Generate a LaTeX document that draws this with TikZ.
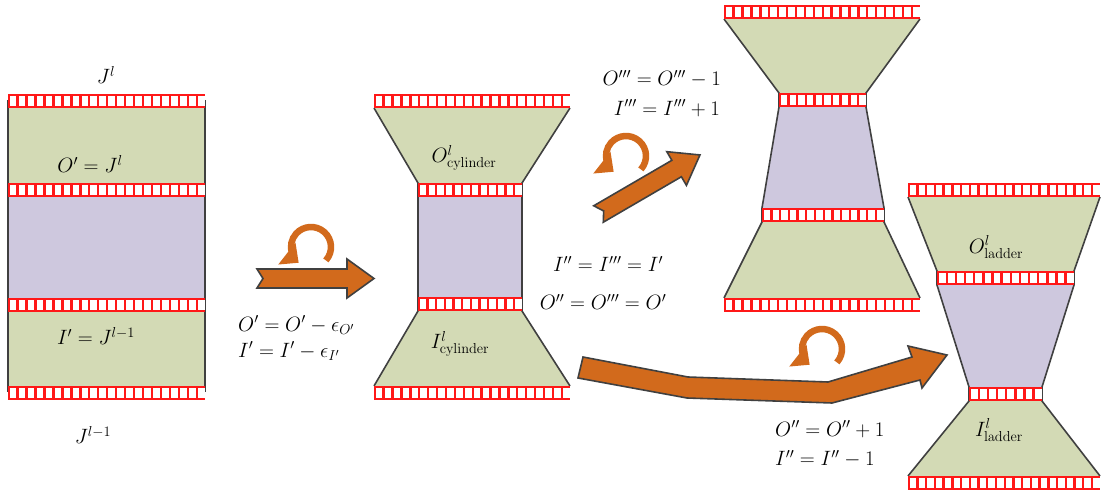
\documentclass[tikz,border=0pt]{standalone}
\usetikzlibrary{arrows.meta}
\definecolor{pgreen}{RGB}{211,218,181}
\definecolor{ppurple}{RGB}{206,200,222}
\definecolor{pedge}{RGB}{64,64,64}
\definecolor{porange}{RGB}{210,106,28}
\definecolor{pred}{RGB}{255,24,24}
\tikzset{
  greenfill/.style={fill=pgreen},
  purplefill/.style={fill=ppurple},
  sideline/.style={draw=pedge, line width=1.6pt, line join=miter},
  fatarrow/.style={fill=porange, draw=pedge, line width=1.6pt, line join=miter},
  rotsym/.style={draw=porange, line width=6.5pt, -{Triangle[width=27pt,length=15pt]}},
  lab/.style={font=\fontsize{21}{25}\selectfont, inner sep=0pt},
}
\newcommand{\ladderstrip}[4]{%
  \pgfmathtruncatemacro{\ncell}{round((#3-#1)/8.9)}%
  \pgfmathsetmacro{\pitch}{(#3-#1)/\ncell}%
  \fill[pred] (#1,#2) rectangle (#3,#4);%
  \foreach \k in {1,...,\ncell}{%
    \fill[white] ({#1+(\k-1)*\pitch+1.9},{#2+2.4}) rectangle ({#1+\k*\pitch-0.5},{#4-2.4});}%
}
\newcommand{\fatarrowshape}[3]{% start coordinate, angle, length
  \begin{scope}[shift={(#1)}, rotate=#2]
    \draw[fatarrow] (0,-9.5) -- ({#3-27},-9.5) -- ({#3-27},-19.5) -- (#3,0)
      -- ({#3-27},19.5) -- ({#3-27},9.5) -- (0,9.5) -- (6,0) -- cycle;
  \end{scope}}
\begin{document}
\begin{tikzpicture}[x=1pt, y=-1pt]
\useasboundingbox (0,0) rectangle (1101,494);

% ---------------- left block ----------------
\fill[greenfill] (8,107) rectangle (205,183);
\fill[purplefill] (8,196) rectangle (205,298);
\fill[greenfill] (8,311) rectangle (205,386);
\draw[sideline] (8,100) -- (8,392);
\draw[sideline] (205,100) -- (205,392);
\ladderstrip{8}{94}{205}{108}
\ladderstrip{8}{183}{205}{197}
\ladderstrip{8}{298}{205}{312}
\ladderstrip{8}{386}{205}{400}

% ---------------- cylinder ----------------
\fill[greenfill] (374,108) -- (570,108) -- (522,183) -- (418,183) -- cycle;
\fill[purplefill] (418,196) rectangle (522,298);
\fill[greenfill] (418,311) -- (522,311) -- (570,386) -- (374,386) -- cycle;
\draw[sideline] (374,108) -- (418,183) -- (418,311) -- (374,386);
\draw[sideline] (570,108) -- (522,183) -- (522,311) -- (570,386);
\ladderstrip{374}{94}{570}{108}
\ladderstrip{418}{183}{522}{197}
\ladderstrip{418}{297}{522}{311}
\ladderstrip{374}{386}{570}{400}

% ---------------- upper right ----------------
\fill[greenfill] (724,19) -- (920,19) -- (866,93) -- (779,93) -- cycle;
\fill[purplefill] (779,107) -- (866,107) -- (884,208) -- (762,208) -- cycle;
\fill[greenfill] (762,222) -- (884,222) -- (920,298) -- (724,298) -- cycle;
\draw[sideline] (724,19) -- (779,93) -- (779,107) -- (762,208) -- (762,222) -- (724,298);
\draw[sideline] (920,19) -- (866,93) -- (866,107) -- (884,208) -- (884,222) -- (920,298);
\ladderstrip{724}{5}{920}{19}
\ladderstrip{779}{93}{866}{107}
\ladderstrip{762}{208}{884}{222}
\ladderstrip{724}{298}{920}{312}

% ---------------- ladder ----------------
\fill[greenfill] (908,197) -- (1100,197) -- (1074,271) -- (937,271) -- cycle;
\fill[purplefill] (937,285) -- (1074,285) -- (1042,387) -- (969,387) -- cycle;
\fill[greenfill] (969,401) -- (1042,401) -- (1100,476) -- (908,476) -- cycle;
\draw[sideline] (908,197) -- (937,271) -- (937,285) -- (969,387) -- (969,401) -- (908,476);
\draw[sideline] (1100,197) -- (1074,271) -- (1074,285) -- (1042,387) -- (1042,401) -- (1100,476);
\ladderstrip{908}{183}{1100}{197}
\ladderstrip{937}{271}{1074}{285}
\ladderstrip{969}{387}{1042}{401}
\ladderstrip{908}{476}{1100}{490}

% ---------------- arrows ----------------
\coordinate (arrA) at (257,278.5);
\coordinate (arrB) at (598.5,214);
\fatarrowshape{arrA}{0}{117}
\fatarrowshape{arrB}{30.2}{117.4}
\draw[fatarrow] (583,357) -- (688,377) -- (828,382) -- (912,357) -- (908,346)
  -- (947,355) -- (922,388) -- (920,380) -- (832,403) -- (687,398) -- (578,378) -- cycle;

% rotation symbols
\coordinate (rotA) at (311,247);
\coordinate (rotB) at (626,156);
\coordinate (rotC) at (822,349);
\foreach \c in {rotA,rotB,rotC}{
  \draw[rotsym] ([shift={(42:20)}]\c) arc[start angle=42, end angle=-232, radius=20];
}

% ---------------- labels ----------------
\node[lab] (jl) at (106,75) {$J^{l}$};
\node[lab] (oj) at (90,164) {$O' = J^{l}$};
\node[lab] (ij) at (96,336) {$I' = J^{l-1}$};
\node[lab] (jl1) at (93,435) {$J^{l-1}$};
\node[lab] (ocyl) at (464,158) {$O^{l}_{\mathrm{cylinder}}$};
\node[lab] (icyl) at (460,344) {$I^{l}_{\mathrm{cylinder}}$};
\node[lab, anchor=west] (eqa) at (238,325) {$O' = O' - \epsilon_{O'}$};
\node[lab, anchor=west] (eqb) at (238,351) {$I' = I' - \epsilon_{I'}$};
\node[lab, anchor=east] (eqc) at (721,79) {$O''' = O''' - 1$};
\node[lab, anchor=east] (eqd) at (720,108) {$I''' = I''' + 1$};
\node[lab] (eqe) at (608,264) {$I'' = I''' = I'$};
\node[lab] (eqf) at (603,302) {$O'' = O''' = O'$};
\node[lab, anchor=west] (eqg) at (775,429) {$O'' = O'' + 1$};
\node[lab, anchor=west] (eqh) at (775,459) {$I'' = I'' - 1$};
\node[lab] (olad) at (996,247) {$O^{l}_{\mathrm{ladder}}$};
\node[lab] (ilad) at (999,430) {$I^{l}_{\mathrm{ladder}}$};
\end{tikzpicture}
\end{document}
